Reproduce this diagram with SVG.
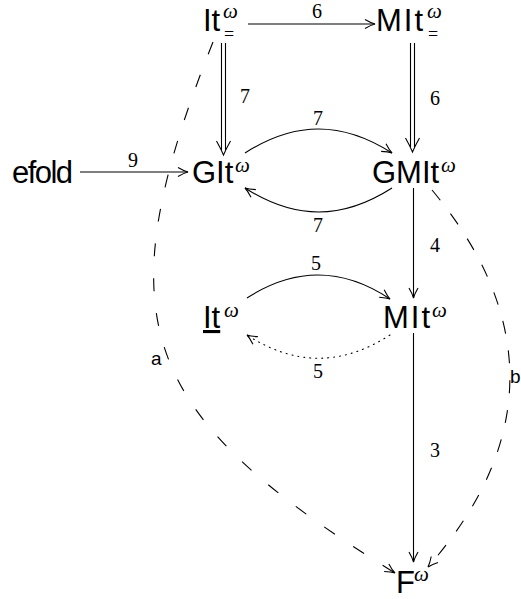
<svg xmlns="http://www.w3.org/2000/svg" width="521" height="599" viewBox="0 0 521 599">
<style>
.n{font-family:"Liberation Sans",Arial,sans-serif;font-size:31px;fill:#000}
.w{font-family:"Liberation Serif","Times New Roman",serif;font-style:italic;font-size:21px;fill:#000}
.eq{font-family:"Liberation Serif","Times New Roman",serif;font-size:18px;fill:#000}
.lb{font-family:"Liberation Serif","Times New Roman",serif;font-size:20px;fill:#000;text-anchor:middle}
.ls{font-family:"Liberation Sans",Arial,sans-serif;font-size:19px;fill:#000}
.e{fill:none;stroke:#000;stroke-width:1.1}
.da{stroke-dasharray:13 22}
.db{stroke-dasharray:13 17}
.dt{stroke-dasharray:1 5;stroke-linecap:round}
</style>
<defs>
<marker id="ah" markerWidth="14" markerHeight="12" refX="11" refY="6" orient="auto" markerUnits="userSpaceOnUse" viewBox="0 0 14 12">
<path d="M1,1.5 Q7,5 11,6 Q7,7 1,10.5" fill="none" stroke="#000" stroke-width="1.1"/>
</marker>
</defs>
<g id="connectors">
<g id="e-6-top"><path class="e" d="M248,24 H375" marker-end="url(#ah)"/><text class="lb" x="317" y="18">6</text></g>
<g id="e-7-left"><path class="e" d="M221.5,43 V150 M225.5,43 V150 M216.5,141 Q221,149 223.5,155 Q226,149 230.5,141"/><text class="lb" x="245" y="103">7</text></g>
<g id="e-6-right"><path class="e" d="M410.5,43 V147 M414.5,43 V147 M405.5,138 Q410,146 412.5,152 Q415,146 419.5,138"/><text class="lb" x="435" y="105">6</text></g>
<g id="e-9"><path class="e" d="M80,172 H188" marker-end="url(#ah)"/><text class="lb" x="133" y="167">9</text></g>
<g id="e-7-top"><path class="e" d="M245,153 C295,121 342,121 392,153" marker-end="url(#ah)"/><text class="lb" x="318" y="125">7</text></g>
<g id="e-7-bottom"><path class="e" d="M392,188 C342,220 295,220 245,188" marker-end="url(#ah)"/><text class="lb" x="318" y="232">7</text></g>
<g id="e-4"><path class="e" d="M413.5,188 V298" marker-end="url(#ah)"/><text class="lb" x="435" y="252">4</text></g>
<g id="e-5-top"><path class="e" d="M247,298 C295,267 342,267 390,299" marker-end="url(#ah)"/><text class="lb" x="316" y="270">5</text></g>
<g id="e-5-bottom"><path class="e dt" d="M390,335 C342,366 295,366 247,335" marker-end="url(#ah)"/><text class="lb" x="318" y="378">5</text></g>
<g id="e-3"><path class="e" d="M413.5,333 V562" marker-end="url(#ah)"/><text class="lb" x="435" y="457">3</text></g>
<g id="e-a"><path class="e da" d="M213,42 C102,321 138,414 395,573" marker-end="url(#ah)"/><text class="ls" x="151" y="365">a</text></g>
<g id="e-b"><path class="e db" d="M432,190 C537,316 536,444 428,567" marker-end="url(#ah)"/><text class="ls" x="510" y="383">b</text></g>
</g>
<g id="n-It-eq"><text class="n" x="203" y="31">It</text><text class="w" x="223" y="18">ω</text><text class="eq" x="224" y="40">=</text></g>
<g id="n-MIt-eq"><text class="n" x="376" y="31" textLength="47">MIt</text><text class="w" x="427" y="18">ω</text><text class="eq" x="428" y="40">=</text></g>
<g id="n-efold"><text class="n" x="12" y="183" textLength="61">efold</text></g>
<g id="n-GIt"><text class="n" x="192" y="183">GIt</text><text class="w" x="235" y="172">ω</text></g>
<g id="n-GMIt"><text class="n" x="372" y="183">GMIt</text><text class="w" x="441" y="172">ω</text></g>
<g id="n-It-under"><text class="n" x="203" y="328" text-decoration="underline">It</text><text class="w" x="224" y="317">ω</text></g>
<g id="n-MIt"><text class="n" x="383" y="328" textLength="47">MIt</text><text class="w" x="432" y="317">ω</text></g>
<g id="n-F"><text class="n" x="396" y="593">F</text><text class="w" x="414" y="581">ω</text></g>
</svg>
